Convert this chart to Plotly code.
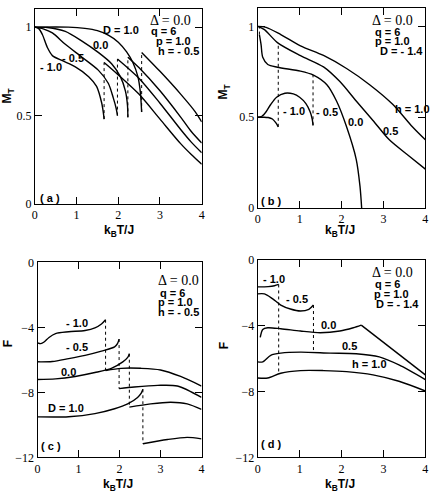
"""Magnetization and free energy panels (a)-(d)."""

import numpy as np
import plotly.graph_objects as go

W, H = 433, 502

# ---- panel (a): M_T vs kT/J, h = -0.5 (pre / post jump branches) ----
T_A_PRE_DM10 = [0, 0.1, 0.18, 0.3, 0.42, 0.66, 0.97, 1.29, 1.48, 1.6, 1.64, 1.66]
M_A_PRE_DM10 = [1.0, 0.99, 0.958, 0.885, 0.839, 0.81, 0.775, 0.72, 0.665, 0.574, 0.52, 0.48]
T_A_PRE_DM05 = [0, 0.2, 0.42, 0.73, 1.13, 1.52, 1.76, 1.88, 1.95, 1.98]
M_A_PRE_DM05 = [1.0, 0.99, 0.967, 0.903, 0.83, 0.757, 0.683, 0.6, 0.54, 0.5]
T_A_PRE_D00 = [0, 0.3, 0.73, 1.13, 1.52, 1.84, 2.05, 2.17, 2.22, 2.23]
M_A_PRE_D00 = [1.0, 0.998, 0.976, 0.921, 0.857, 0.793, 0.72, 0.64, 0.56, 0.49]
T_A_PRE_D10 = [0, 0.8, 1.2, 1.5, 1.76, 2.0, 2.2, 2.35, 2.47, 2.53, 2.56]
M_A_PRE_D10 = [1.0, 1.0, 0.993, 0.98, 0.955, 0.915, 0.86, 0.8, 0.72, 0.63, 0.52]

T_A_POST_DM10 = [1.66, 2.0, 2.5, 3.0, 3.5, 3.75, 4.0]
M_A_POST_DM10 = [0.8, 0.73, 0.62, 0.48, 0.34, 0.28, 0.225]
T_A_POST_DM05 = [1.98, 2.5, 3.0, 3.5, 3.75, 4.0]
M_A_POST_DM05 = [0.82, 0.71, 0.57, 0.42, 0.35, 0.29]
T_A_POST_D00 = [2.23, 2.5, 3.0, 3.5, 3.75, 4.0]
M_A_POST_D00 = [0.83, 0.77, 0.64, 0.49, 0.41, 0.345]
T_A_POST_D10 = [2.56, 3.0, 3.5, 3.85, 4.0]
M_A_POST_D10 = [0.857, 0.75, 0.62, 0.52, 0.464]

# ---- panel (b): M_T vs kT/J, D = -1.4 ----
T_B_H10 = [0, 0.2, 0.55, 1.02, 1.57, 2.12, 2.67, 3.22, 3.69, 4.0]
M_B_H10 = [1.0, 0.995, 0.955, 0.893, 0.84, 0.768, 0.679, 0.571, 0.447, 0.375]
T_B_H05 = [0, 0.16, 0.47, 1.02, 1.57, 1.96, 2.35, 2.75, 3.14, 3.61, 4.0]
M_B_H05 = [1.0, 0.982, 0.911, 0.839, 0.777, 0.696, 0.589, 0.482, 0.375, 0.286, 0.214]
T_B_H00 = [0.04, 0.08, 0.12, 0.24, 0.47, 1.02, 1.33, 1.65, 1.88, 2.12, 2.35, 2.44, 2.48]
M_B_H00 = [0.955, 0.9, 0.83, 0.79, 0.775, 0.754, 0.732, 0.679, 0.589, 0.447, 0.268, 0.12, 0.0]
T_B_HM05 = [0, 0.1, 0.2, 0.31, 0.45, 0.65, 0.85, 1.0, 1.15, 1.25, 1.3, 1.32]
M_B_HM05 = [0.5, 0.505, 0.53, 0.57, 0.61, 0.632, 0.628, 0.61, 0.575, 0.53, 0.49, 0.455]
T_B_HM10 = [0, 0.15, 0.25, 0.35, 0.43, 0.49]
M_B_HM10 = [0.5, 0.5, 0.498, 0.49, 0.47, 0.447]

# ---- panel (c): F vs kT/J, h = -0.5 ----
T_C_PRE_DM10 = [0, 0.08, 0.16, 0.28, 0.44, 0.76, 1.16, 1.4, 1.56, 1.66]
F_C_PRE_DM10 = [-4.95, -5.0, -4.9, -4.62, -4.38, -4.27, -4.19, -4.03, -3.79, -3.53]
T_C_PRE_DM05 = [0, 0.36, 0.76, 1.16, 1.56, 1.88, 1.95, 1.99]
F_C_PRE_DM05 = [-6.12, -6.1, -5.92, -5.72, -5.46, -5.2, -5.0, -4.72]
T_C_PRE_D00 = [0, 0.44, 0.92, 1.4, 1.8, 2.08, 2.2, 2.24]
F_C_PRE_D00 = [-7.21, -7.17, -7.02, -6.78, -6.52, -6.12, -5.85, -5.62]
T_C_PRE_D10 = [0, 0.76, 1.4, 1.88, 2.2, 2.44, 2.53, 2.57]
F_C_PRE_D10 = [-9.51, -9.5, -9.31, -9.01, -8.71, -8.31, -8.05, -7.81]

T_C_POST_DM10 = [1.66, 2.04, 2.52, 3.0, 3.49, 4.0]
F_C_POST_DM10 = [-6.65, -6.52, -6.52, -6.62, -7.02, -7.61]
T_C_POST_DM05 = [1.99, 2.36, 2.93, 3.41, 4.0]
F_C_POST_DM05 = [-7.77, -7.67, -7.57, -7.61, -8.31]
T_C_POST_D00 = [2.24, 2.76, 3.25, 3.65, 4.0]
F_C_POST_D00 = [-8.91, -8.71, -8.61, -8.71, -9.05]
T_C_POST_D10 = [2.57, 3.17, 3.65, 4.0]
F_C_POST_D10 = [-11.16, -10.9, -10.77, -10.86]

# ---- panel (d): F vs kT/J, D = -1.4 ----
T_D_HM10 = [0, 0.25, 0.4, 0.5]
F_D_HM10 = [-1.65, -1.63, -1.58, -1.5]
T_D_HM05 = [0, 0.16, 0.35, 0.55, 0.78, 1.02, 1.22, 1.33]
F_D_HM05 = [-2.07, -2.07, -2.36, -2.75, -2.99, -3.11, -3.01, -2.75]
T_D_H00 = [0.06, 0.12, 0.24, 0.55, 1.02, 1.49, 1.96, 2.28, 2.47, 4.0]
F_D_H00 = [-4.72, -4.23, -4.13, -4.19, -4.33, -4.43, -4.33, -4.13, -3.97, -6.99]
T_D_H05 = [0, 0.12, 0.31, 0.55, 1.02, 1.73, 2.35, 2.9, 3.37, 4.0]
F_D_H05 = [-6.2, -6.2, -5.8, -5.67, -5.61, -5.67, -5.71, -5.9, -6.39, -7.28]
T_D_H10 = [0, 0.24, 0.55, 1.02, 1.57, 2.12, 2.75, 3.37, 4.0]
F_D_H10 = [-7.18, -7.18, -6.89, -6.73, -6.73, -6.79, -6.99, -7.38, -7.97]

X_TICKS = [0, 1, 2, 3, 4]
M_TICKS = [0, 0.5, 1]
F_TICKS = [-12, -8, -4, 0]

SERIF = "Liberation Serif"
SANS = "Liberation Sans"


def _curve(fig, t, v, axis, smooth=True):
    """실선 곡선 추가."""
    fig.add_trace(
        go.Scatter(
            x=t, y=v, mode="lines", xaxis="x" + axis, yaxis="y" + axis,
            line=dict(color="black", width=1.4,
                      shape="spline" if smooth else "linear", smoothing=0.8),
            showlegend=False, hoverinfo="skip",
        )
    )


def _jump(fig, t, v0, v1, axis):
    """점선 수직 전이선 추가."""
    fig.add_trace(
        go.Scatter(
            x=[t, t], y=[v0, v1], mode="lines", xaxis="x" + axis, yaxis="y" + axis,
            line=dict(color="black", width=1, dash="dot"),
            showlegend=False, hoverinfo="skip",
        )
    )


def _ann(x, y, text, size=11, bold=True, serif=False, xanchor="left", angle=0):
    """픽셀 좌표 기준 주석."""
    return dict(
        x=x / W, y=1 - y / H, xref="paper", yref="paper", text=text,
        showarrow=False, xanchor=xanchor, yanchor="middle", textangle=angle,
        font=dict(family=SERIF if serif else SANS, size=size, color="black",
                  weight="bold" if bold else "normal"),
    )


fig = go.Figure()

# (a)
pre_a = [(T_A_PRE_DM10, M_A_PRE_DM10), (T_A_PRE_DM05, M_A_PRE_DM05),
         (T_A_PRE_D00, M_A_PRE_D00), (T_A_PRE_D10, M_A_PRE_D10)]
post_a = [(T_A_POST_DM10, M_A_POST_DM10), (T_A_POST_DM05, M_A_POST_DM05),
          (T_A_POST_D00, M_A_POST_D00), (T_A_POST_D10, M_A_POST_D10)]
for (tp, mp), (tq, mq) in zip(pre_a, post_a):
    _curve(fig, tp, mp, "")
    _curve(fig, tq, mq, "")
    _jump(fig, tp[-1], mp[-1], mq[0], "")

# (b)
for t, m in [(T_B_H10, M_B_H10), (T_B_H05, M_B_H05), (T_B_H00, M_B_H00),
             (T_B_HM05, M_B_HM05), (T_B_HM10, M_B_HM10)]:
    _curve(fig, t, m, "2")
_jump(fig, T_B_HM10[-1], M_B_HM10[-1], float(np.interp(T_B_HM10[-1], T_B_H05, M_B_H05)), "2")
_jump(fig, T_B_HM05[-1], M_B_HM05[-1], float(np.interp(T_B_HM05[-1], T_B_H00, M_B_H00)), "2")
_jump(fig, T_B_H00[0], M_B_H00[0], float(np.interp(T_B_H00[0], T_B_H10, M_B_H10)), "2")

# (c)
pre_c = [(T_C_PRE_DM10, F_C_PRE_DM10), (T_C_PRE_DM05, F_C_PRE_DM05),
         (T_C_PRE_D00, F_C_PRE_D00), (T_C_PRE_D10, F_C_PRE_D10)]
post_c = [(T_C_POST_DM10, F_C_POST_DM10), (T_C_POST_DM05, F_C_POST_DM05),
          (T_C_POST_D00, F_C_POST_D00), (T_C_POST_D10, F_C_POST_D10)]
for (tp, fp), (tq, fq) in zip(pre_c, post_c):
    _curve(fig, tp, fp, "3")
    _curve(fig, tq, fq, "3")
    _jump(fig, tp[-1], fp[-1], fq[0], "3")

# (d)
for t, f in [(T_D_HM10, F_D_HM10), (T_D_HM05, F_D_HM05), (T_D_H05, F_D_H05), (T_D_H10, F_D_H10)]:
    _curve(fig, t, f, "4")
_curve(fig, T_D_H00[:-1], F_D_H00[:-1], "4")
_curve(fig, T_D_H00[-2:], F_D_H00[-2:], "4", smooth=False)
_jump(fig, T_D_HM10[-1], F_D_HM10[-1], float(np.interp(T_D_HM10[-1], T_D_H10, F_D_H10)), "4")
_jump(fig, T_D_HM05[-1], F_D_HM05[-1], float(np.interp(T_D_HM05[-1], T_D_H05, F_D_H05)), "4")


def _axis(domain, rng, ticks, anchor, ticktext=None):
    return dict(
        domain=domain, range=rng, tickvals=ticks, ticktext=ticktext, anchor=anchor,
        ticks="inside", ticklen=7, tickwidth=1, tickcolor="black",
        showline=True, linecolor="black", linewidth=1, mirror="ticks",
        showgrid=False, zeroline=False,
        tickfont=dict(family=SERIF, size=12, color="black"),
    )


m_text = ["0", "0.5", "1"]
fig.update_layout(
    width=W, height=H,
    margin=dict(l=0, r=0, t=0, b=0),
    paper_bgcolor="white", plot_bgcolor="white",
    xaxis=_axis([32.3 / W, 201.5 / W], [0, 4], X_TICKS, "y"),
    yaxis=_axis([1 - 202.7 / H, 1 - 2.5 / H], [0, 1.1], M_TICKS, "x", m_text),
    xaxis2=_axis([258.3 / W, 428.3 / W], [0, 4], X_TICKS, "y2"),
    yaxis2=_axis([1 - 206.7 / H, 1 - 1.3 / H], [0, 1.1], M_TICKS, "x2", m_text),
    xaxis3=_axis([35 / W, 201.3 / W], [0, 4], X_TICKS, "y3"),
    yaxis3=_axis([1 - 463.3 / H, 1 - 262.7 / H], [-12, 0], F_TICKS, "x3"),
    xaxis4=_axis([258.3 / W, 428.3 / W], [0, 4], X_TICKS, "y4"),
    yaxis4=_axis([1 - 463.3 / H, 1 - 260 / H], [-12, 0], F_TICKS, "x4"),
)

kt = "k<sub>B</sub>T/J"
mt = "M<sub>T</sub>"
annotations = [
    # axis titles
    _ann(118, 230, kt, size=12, xanchor="center"),
    _ann(342, 230, kt, size=12, xanchor="center"),
    _ann(117, 492, kt, size=12, xanchor="center"),
    _ann(342, 492, kt, size=12, xanchor="center"),
    _ann(6, 91, mt, size=12, xanchor="center", angle=-90),
    _ann(224, 87, mt, size=12, xanchor="center", angle=-90),
    _ann(5, 346, "F", size=12, xanchor="center", angle=-90),
    _ann(224, 348, "F", size=12, xanchor="center", angle=-90),
    # (a)
    _ann(146.7, 13.7, "Δ = 0.0", size=14, bold=False, serif=True),
    _ann(148.3, 25, "q = 6"),
    _ann(153.3, 35, "p = 1.0"),
    _ann(155, 45, "h = - 0.5"),
    _ann(99, 23.3, "D = 1.0"),
    _ann(89.3, 38.8, "0.0"),
    _ann(58.3, 52.5, "- 0.5"),
    _ann(35, 61.5, "- 1.0"),
    _ann(35, 196.7, "( a )"),
    # (b)
    _ann(371.7, 13.7, "Δ = 0.0", size=14, bold=False, serif=True),
    _ann(375, 25.3, "q = 6"),
    _ann(375, 35.3, "p = 1.0"),
    _ann(380, 45.3, "D = - 1.4"),
    _ann(395, 105, "h = 1.0"),
    _ann(383.3, 127.5, "0.5"),
    _ann(348.3, 118.3, "0.0"),
    _ann(315, 108.3, "- 0.5"),
    _ann(281.7, 106.7, "- 1.0"),
    _ann(260, 199.5, "( b )"),
    # (c)
    _ann(155, 281.7, "Δ = 0.0", size=14, bold=False, serif=True),
    _ann(156.7, 293.8, "q = 6"),
    _ann(155, 303.8, "p = 1.0"),
    _ann(155, 313.8, "h = - 0.5"),
    _ann(61.7, 325, "- 1.0"),
    _ann(61.7, 350, "- 0.5"),
    _ann(56.7, 375.8, "0.0"),
    _ann(43.3, 413, "D = 1.0"),
    _ann(36.7, 452, "( c )"),
    # (d)
    _ann(371.7, 273.3, "Δ = 0.0", size=14, bold=False, serif=True),
    _ann(375, 285, "q = 6"),
    _ann(374.3, 295, "p = 1.0"),
    _ann(376.7, 305.3, "D = - 1.4"),
    _ann(261.7, 279.7, "- 1.0"),
    _ann(285, 300.8, "- 0.5"),
    _ann(320, 327, "0.0"),
    _ann(341.7, 348.8, "0.5"),
    _ann(351.7, 367, "h = 1.0"),
    _ann(260, 450, "( d )"),
]
fig.update_layout(annotations=annotations)

# 기본 body 여백을 없애서 433x502 창에 그대로 맞춘다
fig.write_html(
    "out.html",
    config={"displayModeBar": False},
    post_script="document.body.style.margin='0';",
)
